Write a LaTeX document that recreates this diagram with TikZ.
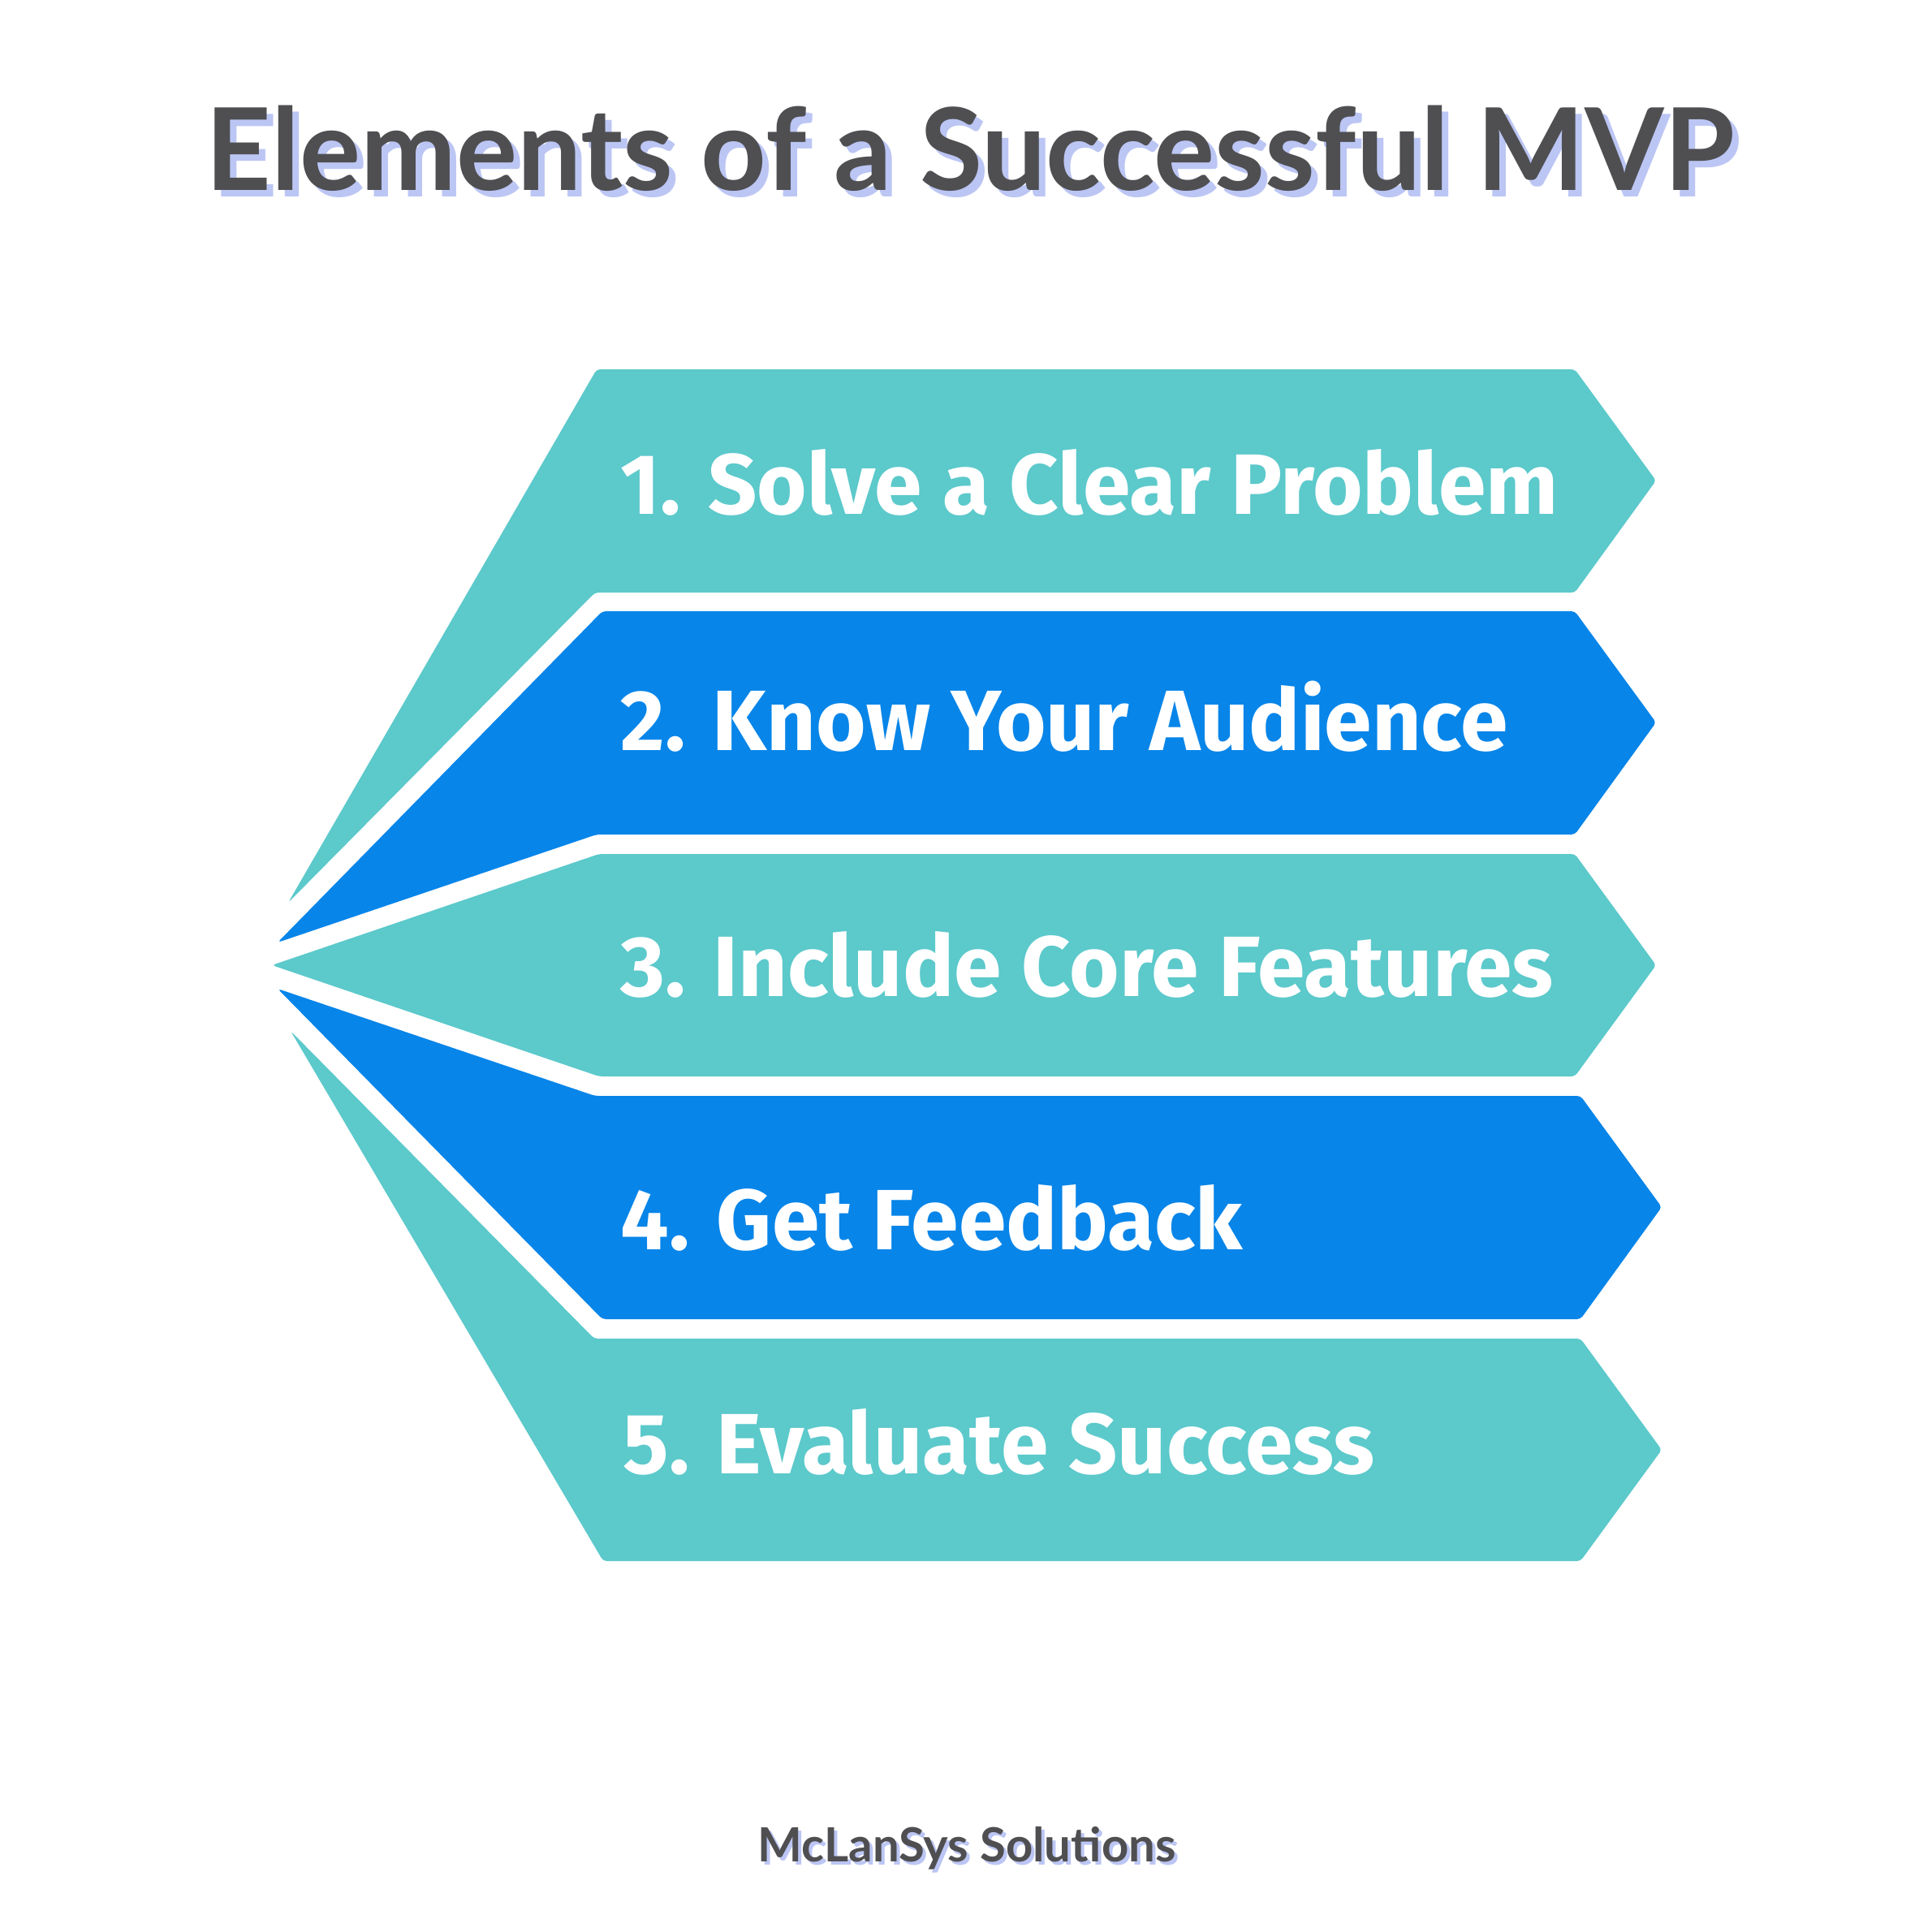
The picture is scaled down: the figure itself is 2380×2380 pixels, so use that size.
\documentclass[tikz,border=0pt]{standalone}
\usepackage{fontspec}
\newfontfamily\bandfont{Fira Sans}
\newfontfamily\titlefont{Lato}
\definecolor{bandteal}{HTML}{5CC9CB}
\definecolor{bandblue}{HTML}{0785E9}
\definecolor{titlegray}{HTML}{4F4F52}
\definecolor{shadowlav}{HTML}{BCC6F4}
\tikzset{
  bandtxt/.style={anchor=base west, text=white, inner sep=0pt,
    font=\bandfont\bfseries\fontsize{30}{36}\selectfont},
  tealband/.style={fill=bandteal, rounded corners=1.2pt},
  blueband/.style={fill=bandblue, rounded corners=1.2pt},
  titletxt/.style={anchor=base, inner sep=0pt, font=\titlefont\bfseries\fontsize{40}{48}\selectfont},
  foottxt/.style={anchor=base, inner sep=0pt, font=\titlefont\bfseries\fontsize{16.5}{20}\selectfont}
}
\begin{document}
\begin{tikzpicture}[x=0.01cm, y=-0.01cm]
\useasboundingbox (0,0) rectangle (2380,2380);
\fill[white] (0,0) rectangle (2380,2380);
% bands
\path[tealband] (735,455) -- (1940,455) -- (2040,592) -- (1940,730) -- (733,730) -- (355,1112) -- cycle;
\path[blueband] (742,753) -- (1940,753) -- (2040,890) -- (1940,1028) -- (735,1028) -- (342,1161) -- cycle;
\path[tealband] (738,1052) -- (1940,1052) -- (2040,1189) -- (1940,1326) -- (738,1326) -- (335,1189) -- cycle;
\path[blueband] (733,1350) -- (1947,1350) -- (2047,1487) -- (1947,1625) -- (742,1625) -- (342,1218) -- cycle;
\path[tealband] (732,1649) -- (1947,1649) -- (2047,1786) -- (1947,1923) -- (743,1923) -- (358,1270) -- cycle;
% band texts
\node[bandtxt] (t1) at (764,634) {1. Solve a Clear Problem};
\node[bandtxt] (t2) at (764,924) {2. Know Your Audience};
\node[bandtxt] (t3) at (764,1227) {3. Include Core Features};
\node[bandtxt] (t4) at (764,1539) {4. Get Feedback};
\node[bandtxt] (t5) at (767,1815) {5. Evaluate Success};
% title
\node[titletxt, text=shadowlav] (titleshadow) at (1203,243) {Elements of a Successful MVP};
\node[titletxt, text=titlegray] (title) at (1195,235) {Elements of a Successful MVP};
% footer
\node[foottxt, text=shadowlav] (footshadow) at (1195,2297) {McLanSys Solutions};
\node[foottxt, text=titlegray] (footer) at (1191,2293) {McLanSys Solutions};
\end{tikzpicture}
\end{document}
